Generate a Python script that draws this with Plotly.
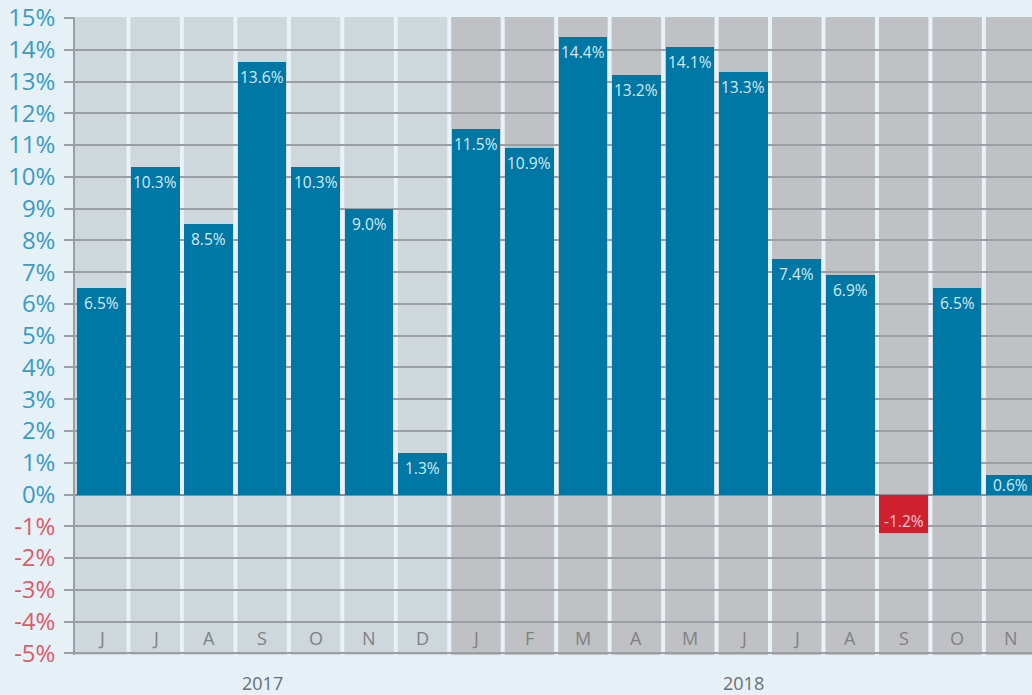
import plotly.graph_objects as go

# ---- data ----
months = ["J", "J", "A", "S", "O", "N", "D",
          "J", "F", "M", "A", "M", "J", "J", "A", "S", "O", "N"]
years = ["2017"] * 7 + ["2018"] * 11
values = [6.5, 10.3, 8.5, 13.6, 10.3, 9.0, 1.3,
          11.5, 10.9, 14.4, 13.2, 14.1, 13.3, 7.4, 6.9, -1.2, 6.5, 0.6]
y_ticks = list(range(-5, 16))
year_names = ["2017", "2018"]

# ---- styles ----
PAGE_BG = "#e5f0f7"
YEAR_BG = {"2017": "#ced7dc", "2018": "#bfc1c4"}
SEP = "#e8f2f8"
GRID = "#9b9fa3"
POS = "#0077a4"
NEG = "#d0202f"
TICK_POS = "#3a9cc3"
TICK_NEG = "#df5a67"

x = list(range(len(values)))
colors = [POS if v >= 0 else NEG for v in values]

fig = go.Figure()
fig.add_trace(go.Bar(
    x=x, y=values, width=0.91,
    marker=dict(color=colors, line=dict(width=0)),
    hoverinfo="skip",
))

shapes = []
# year background panels
for yr in year_names:
    idx = [i for i, y in enumerate(years) if y == yr]
    shapes.append(dict(type="rect", xref="x", yref="paper",
                       x0=min(idx) - 0.5, x1=max(idx) + 0.5 + (1 if yr == year_names[-1] else 0),
                       y0=0, y1=1, fillcolor=YEAR_BG[yr], line=dict(width=0), layer="below"))
# white separators between months
for i in range(1, len(values) + 1):
    shapes.append(dict(type="line", xref="x", yref="paper",
                       x0=i - 0.5, x1=i - 0.5, y0=0, y1=1,
                       line=dict(color=SEP, width=4), layer="below"))

annotations = []
for i, v in enumerate(values):
    if v >= 0:
        if v >= 1:
            annotations.append(dict(x=i, y=v, yshift=-15, yanchor="middle"))
        else:
            annotations.append(dict(x=i, y=v / 2, yshift=0, yanchor="middle"))
    else:
        annotations.append(dict(x=i, y=v, yshift=12, yanchor="middle"))
    annotations[-1].update(
        text=f"{v:.1f}%", xref="x", yref="y", showarrow=False, xanchor="center",
        font=dict(family="Open Sans", size=15.5,
                  color="#d5eaf3" if v >= 0 else "#f6c9ce"))

# month labels in bottom row
for i, m in enumerate(months):
    annotations.append(dict(x=i, y=-4.5, xref="x", yref="y", text=m, showarrow=False,
                            font=dict(family="Open Sans", size=18, color="#7e8185")))
# year labels
for yr in year_names:
    idx = [i for i, y in enumerate(years) if y == yr]
    annotations.append(dict(x=sum(idx) / len(idx), y=0, xref="x", yref="paper",
                            yshift=-28, yanchor="middle", text=yr, showarrow=False,
                            font=dict(family="Open Sans", size=18, color="#6c6f73")))

ticktext = [f'<span style="color:{TICK_POS if t >= 0 else TICK_NEG}">{t}%</span>' for t in y_ticks]

fig.update_layout(
    width=1032, height=695,
    margin=dict(l=75, r=0, t=17, b=40),
    paper_bgcolor=PAGE_BG, plot_bgcolor=PAGE_BG,
    showlegend=False,
    shapes=shapes, annotations=annotations,
    bargap=0,
    xaxis=dict(range=[-0.5, 17.4], showticklabels=False, showgrid=False,
               zeroline=False, ticks="", fixedrange=True),
    yaxis=dict(range=[-5.05, 15.03], tickvals=y_ticks, ticktext=ticktext,
               tickfont=dict(family="Open Sans", size=24, color=TICK_POS),
               showgrid=True, gridcolor=GRID, gridwidth=1.5,
               zeroline=True, zerolinecolor="#8a8e92", zerolinewidth=2,
               showline=True, linecolor=GRID, linewidth=1.5,
               ticks="outside", ticklen=9, tickcolor=GRID, tickwidth=1.5,
               ticklabelstandoff=4, fixedrange=True),
)

fig.write_html("out.html", config={"displayModeBar": False})
